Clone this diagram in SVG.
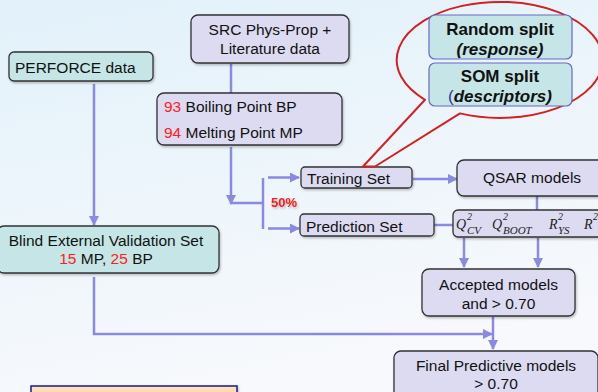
<svg xmlns="http://www.w3.org/2000/svg" width="598" height="392" viewBox="0 0 598 392">
<defs>
<linearGradient id="bg" x1="0" y1="0" x2="0.3" y2="1">
<stop offset="0" stop-color="#e2f1fa"/>
<stop offset="1" stop-color="#f7f9fc"/>
</linearGradient>
<linearGradient id="orange" x1="0" y1="0" x2="0" y2="1">
<stop offset="0" stop-color="#fde3bd"/>
<stop offset="1" stop-color="#f9c98a"/>
</linearGradient>
<filter id="sh" x="-10%" y="-10%" width="130%" height="140%">
<feDropShadow dx="1" dy="1.5" stdDeviation="1" flood-color="#000" flood-opacity="0.25"/>
</filter>
<marker id="arr" viewBox="0 0 10 10" refX="9" refY="5" markerWidth="4" markerHeight="4" orient="auto" markerUnits="strokeWidth">
<path d="M0,0 L10,5 L0,10 Z" fill="#8a8ae4"/>
</marker>
<style>
text{font-family:"Liberation Sans",Arial,Helvetica,sans-serif;font-size:15.5px;fill:#111}
.lav{fill:#dddbf1;stroke:#333;stroke-width:1.3}
.teal{fill:#c5e5e6;stroke:#333;stroke-width:1.3}
.split{fill:#c5e5e6;stroke:#6868c8;stroke-width:1.2}
.red{fill:#ff2020}
.c{text-anchor:middle}
.b{font-weight:bold;font-size:17px}
.bi{font-weight:bold;font-style:italic;font-size:17px}
.m{font-family:"Liberation Serif","Times New Roman",serif;font-style:italic;fill:#222;font-size:14px}
.sup{font-size:10px}
.sub{font-size:11px}
.conn path,.conn line{fill:none;stroke:#8a8ae4;stroke-width:2.5}
</style>
</defs>
<rect x="0" y="0" width="598" height="392" fill="url(#bg)"/>

<g class="conn" id="connectors">
<line x1="94" y1="84" x2="94" y2="225" marker-end="url(#arr)"/>
<line x1="231" y1="64" x2="231" y2="93"/>
<line x1="231" y1="147" x2="231" y2="204" marker-end="url(#arr)"/>
<line x1="230" y1="203" x2="263" y2="203"/>
<line x1="263" y1="178" x2="263" y2="229"/>
<line x1="268" y1="177.5" x2="299" y2="177.5" marker-end="url(#arr)"/>
<line x1="268" y1="228.5" x2="299" y2="228.5" marker-end="url(#arr)"/>
<line x1="413" y1="179" x2="457" y2="179" marker-end="url(#arr)"/>
<line x1="537" y1="196" x2="537" y2="210"/>
<line x1="434" y1="225" x2="453" y2="225"/>
<line x1="464" y1="238" x2="464" y2="267" marker-end="url(#arr)"/>
<line x1="538" y1="238" x2="538" y2="267" marker-end="url(#arr)"/>
<line x1="493" y1="317" x2="493" y2="349" marker-end="url(#arr)"/>
<path d="M94,277 V334 H492" marker-end="url(#arr)"/>
</g>

<g id="perforce">
<rect class="teal" x="9" y="52" width="144" height="29" rx="5" filter="url(#sh)"/>
<text x="15" y="73">PERFORCE data</text>
</g>

<g id="src">
<rect class="lav" x="191" y="15" width="158" height="48" rx="7" filter="url(#sh)"/>
<text class="c" x="270" y="35">SRC Phys-Prop +</text>
<text class="c" x="270" y="54">Literature data</text>
</g>

<g id="data">
<rect class="lav" x="157" y="93" width="185" height="52" rx="7" filter="url(#sh)"/>
<text x="164" y="112"><tspan class="red">93</tspan> Boiling Point BP</text>
<text x="164" y="138"><tspan class="red">94</tspan> Melting Point MP</text>
</g>

<g id="split50">
<text x="271" y="207" style="font-weight:bold;font-size:13px;fill:#ff1a1a;filter:url(#sh)">50%</text>
</g>

<g id="training">
<rect class="lav" x="301" y="167" width="111" height="21" rx="4" filter="url(#sh)"/>
<text x="307" y="184">Training Set</text>
</g>

<g id="prediction">
<rect class="lav" x="300" y="214" width="134" height="22" rx="4" filter="url(#sh)"/>
<text x="306" y="232">Prediction Set</text>
</g>

<g id="qsar">
<rect class="lav" x="457" y="160" width="150" height="36" rx="7" filter="url(#sh)"/>
<text class="c" x="532" y="183">QSAR models</text>
</g>

<g id="stats">
<rect class="lav" x="453" y="210" width="152" height="27" rx="5" filter="url(#sh)"/>
<text class="m" x="456" y="229">Q</text>
<text class="m sup" x="467" y="220">2</text>
<text class="m sub" x="467" y="234">CV</text>
<text class="m" x="492" y="229">Q</text>
<text class="m sup" x="503" y="220">2</text>
<text class="m sub" x="503" y="234">BOOT</text>
<text class="m" x="549" y="229">R</text>
<text class="m sup" x="558" y="220">2</text>
<text class="m sub" x="558" y="234">YS</text>
<text class="m" x="584" y="229">R</text>
<text class="m sup" x="593" y="220">2</text>
</g>

<g id="accepted">
<rect class="lav" x="422" y="269" width="153" height="47" rx="7" filter="url(#sh)"/>
<text class="c" x="498.5" y="290">Accepted models</text>
<text class="c" x="498.5" y="309">and &gt; 0.70</text>
</g>

<g id="final">
<rect class="lav" x="394" y="351" width="204" height="48" rx="7" filter="url(#sh)"/>
<text class="c" x="496" y="371">Final Predictive models</text>
<text class="c" x="496" y="389">&gt; 0.70</text>
</g>

<g id="blind">
<rect class="teal" x="-3" y="226" width="222" height="47" rx="7" filter="url(#sh)"/>
<text class="c" x="106" y="246">Blind External Validation Set</text>
<text class="c" x="106" y="264"><tspan class="red">15</tspan> MP, <tspan class="red">25</tspan> BP</text>
</g>

<g id="callout">
<path d="M425,99.8 L363,166.5 L375,166.5 L460,113.4 A103,58 0 1 0 425,99.8 Z" fill="none" stroke="#d42020" stroke-width="2" stroke-linejoin="round"/>
</g>

<g id="random">
<rect class="split" x="429" y="15" width="143" height="44" rx="6"/>
<text class="c b" x="500" y="35.2">Random split</text>
<text class="c bi" x="500" y="54.6">(response)</text>
</g>

<g id="som">
<rect class="split" x="429" y="63" width="143" height="43" rx="6"/>
<text class="c b" x="500" y="82.4">SOM split</text>
<text class="c bi" x="500" y="101.8"><tspan style="font-style:normal;font-weight:normal;fill:#333399">(</tspan>descriptors)</text>
</g>

<g id="note">
<rect x="31" y="386" width="206" height="20" fill="url(#orange)" stroke="#1a1a99" stroke-width="1.5" filter="url(#sh)"/>
</g>
</svg>
